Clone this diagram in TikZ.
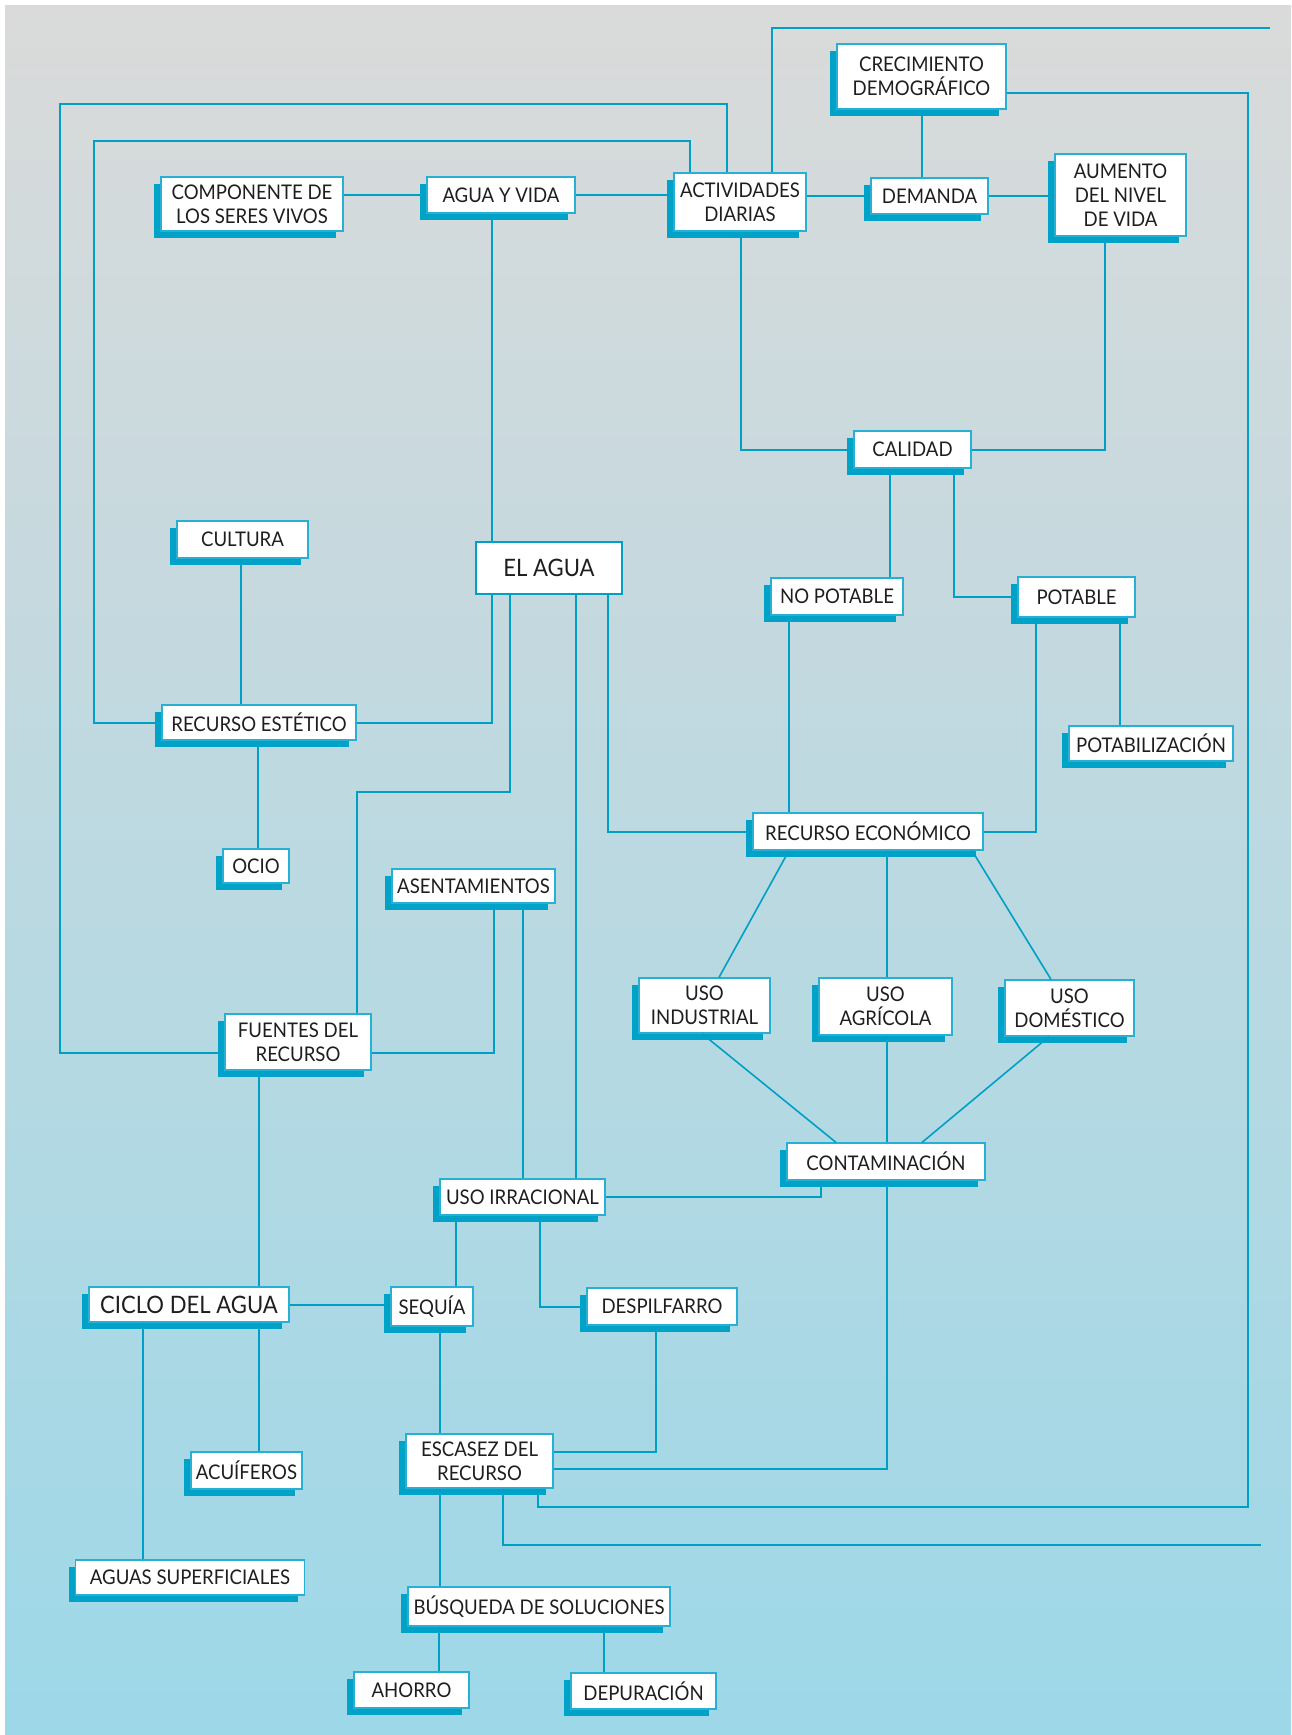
\documentclass[tikz,border=0pt]{standalone}
\usepackage{fontspec}
\setmainfont{Lato}[FakeStretch=0.92]
\usetikzlibrary{shadows}
\definecolor{lc}{RGB}{0,160,198}
\definecolor{bord}{RGB}{40,175,212}
\definecolor{shc}{RGB}{0,162,200}
\definecolor{bgtop}{RGB}{218,218,218}
\definecolor{bgbot}{RGB}{157,216,232}
\definecolor{txt}{RGB}{30,30,30}
\tikzset{
  box/.style={draw=bord, line width=0.6pt, fill=white, inner sep=0pt, align=center,
    text=txt, font=\fontsize{10.1}{12}\selectfont,
    drop shadow={shadow xshift=-3.5pt, shadow yshift=-3.5pt, fill=shc, opacity=1}},
  bigbox/.style={draw=lc, line width=1pt, fill=white, inner sep=0pt, align=center,
    text=txt, font=\fontsize{12}{14}\selectfont},
  conn/.style={draw=lc, line width=1pt},
}
\begin{document}
\begin{tikzpicture}[x=0.5pt, y=-0.5pt]
\useasboundingbox (0,0) rectangle (1291,1735);
\fill[white] (0,0) rectangle (1291,1735);
\shade[top color=bgtop, bottom color=bgbot] (5,5) rectangle (1291,1735);

% nodes
\node[box, minimum width=91pt, minimum height=27pt] (comp) at (252,204) {COMPONENTE DE\\LOS SERES VIVOS};
\node[box, minimum width=74pt, minimum height=18pt] (aguavida) at (501,195) {AGUA Y VIDA};
\node[box, minimum width=66pt, minimum height=29pt] (activ) at (740,202) {ACTIVIDADES\\DIARIAS};
\node[box, minimum width=58.5pt, minimum height=18pt] (demanda) at (929.5,196) {DEMANDA};
\node[box, minimum width=84.5pt, minimum height=32.5pt] (crec) at (921.5,76.5) {CRECIMIENTO\\DEMOGRÁFICO};
\node[box, minimum width=65.5pt, minimum height=41pt] (aumento) at (1120.5,195) {AUMENTO\\DEL NIVEL\\DE VIDA};
\node[box, minimum width=58.5pt, minimum height=18.5pt] (calidad) at (912.5,449.5) {CALIDAD};
\node[box, minimum width=66pt, minimum height=18.5pt] (nopot) at (837,596.5) {NO POTABLE};
\node[box, minimum width=58.5pt, minimum height=20pt] (potable) at (1076.5,597) {POTABLE};
\node[box, minimum width=82pt, minimum height=17.5pt] (potab) at (1151,743.5) {POTABILIZACIÓN};
\node[box, minimum width=65.5pt, minimum height=18.5pt] (cultura) at (242.5,539.5) {CULTURA};
\node[bigbox, minimum width=73pt, minimum height=26pt] (elagua) at (549,568) {EL AGUA};
\node[box, minimum width=97pt, minimum height=17.5pt] (estetico) at (259,722.5) {RECURSO ESTÉTICO};
\node[box, minimum width=33pt, minimum height=17pt] (ocio) at (256,866) {OCIO};
\node[box, minimum width=81.5pt, minimum height=17pt] (asent) at (473.5,886) {ASENTAMIENTOS};
\node[box, minimum width=115pt, minimum height=18.5pt] (econ) at (868,831.5) {RECURSO ECONÓMICO};
\node[box, minimum width=65.5pt, minimum height=27.5pt] (usoind) at (704.5,1005.5) {USO\\INDUSTRIAL};
\node[box, minimum width=66.5pt, minimum height=28.5pt] (usoagr) at (885.5,1006.5) {USO\\AGRÍCOLA};
\node[box, minimum width=64.5pt, minimum height=28pt] (usodom) at (1069.5,1008) {USO\\DOMÉSTICO};
\node[box, minimum width=73pt, minimum height=28pt] (fuentes) at (298,1042) {FUENTES DEL\\RECURSO};
\node[box, minimum width=99pt, minimum height=18.5pt] (contam) at (886,1161.5) {CONTAMINACIÓN};
\node[box, minimum width=82.5pt, minimum height=18pt] (irrac) at (522.5,1197) {USO IRRACIONAL};
\node[box, minimum width=100pt, minimum height=17.5pt, font=\fontsize{12}{14}\selectfont] (ciclo) at (189,1304.5) {CICLO DEL AGUA};
\node[box, minimum width=41pt, minimum height=19.5pt] (sequia) at (432,1306.5) {SEQUÍA};
\node[box, minimum width=75pt, minimum height=18.5pt] (despil) at (662,1306.5) {DESPILFARRO};
\node[box, minimum width=55.5pt, minimum height=18.5pt] (acuif) at (246.5,1470.5) {ACUÍFEROS};
\node[box, minimum width=73.5pt, minimum height=27pt] (escasez) at (479.5,1461) {ESCASEZ DEL\\RECURSO};
\node[box, minimum width=114.5pt, minimum height=17.5pt] (aguassup) at (190,1577.5) {AGUAS SUPERFICIALES};
\node[box, minimum width=131pt, minimum height=19.5pt] (busq) at (539,1606.5) {BÚSQUEDA DE SOLUCIONES};
\node[box, minimum width=57.5pt, minimum height=18pt] (ahorro) at (411.5,1690) {AHORRO};
\node[box, minimum width=72.5pt, minimum height=18pt] (depur) at (643.5,1691) {DEPURACIÓN};

\coordinate (endtop) at (1270,28);
\coordinate (endbot) at (1261,1545);

% connectors
\draw[conn] (comp.east |- aguavida.west) -- (aguavida.west);
\draw[conn] (aguavida.east) -- (activ.west |- aguavida.east);
\draw[conn] (activ.east |- demanda.west) -- (demanda.west);
\draw[conn] (demanda.east) -- (aumento.west |- demanda.east);
\draw[conn] (crec.south) -- (crec.south |- demanda.north);
\draw[conn] (aguavida.south -| 492,0) -- (elagua.north -| 492,0);
\draw[conn] (activ.south -| 741,0) |- (calidad.west);
\draw[conn] (calidad.east) -| (aumento.south -| 1105,0);
\draw[conn] (calidad.south -| 890,0) -- (nopot.north -| 890,0);
\draw[conn] (calidad.south -| 954,0) |- (potable.west);
\draw[conn] (potable.south -| 1120,0) -- (potab.north -| 1120,0);
\draw[conn] (potable.south -| 1036,0) |- (econ.east);
\draw[conn] (nopot.south -| 789,0) -- (econ.north -| 789,0);
\draw[conn] (elagua.south -| 608,0) |- (econ.west);
\draw[conn] (elagua.south -| 576,0) -- (irrac.north -| 576,0);
\draw[conn] (elagua.south -| 510,0) |- (357,792) -- (fuentes.north -| 357,0);
\draw[conn] (elagua.south -| 492,0) |- (estetico.east);
\draw[conn] (cultura.south -| 241,0) -- (estetico.north -| 241,0);
\draw[conn] (estetico.south -| 258,0) -- (ocio.north -| 258,0);
\draw[conn] (activ.north -| 690,0) |- (94,141) |- (estetico.west);
\draw[conn] (activ.north -| 727,0) |- (60,104) |- (fuentes.west |- 0,1053);
\draw[conn] (activ.north -| 772,0) |- (endtop);
\draw[conn] (crec.east |- 0,93) -| (1248,1507) -| (escasez.south -| 538,0);
\draw[conn] (escasez.south -| 503,0) |- (endbot);
\draw[conn] (asent.south -| 494,0) |- (fuentes.east |- 0,1053);
\draw[conn] (asent.south -| 523,0) -- (irrac.north -| 523,0);
\draw[conn, line width=0.8pt] (econ.south -| 789,0) -- (usoind.north -| 719,0);
\draw[conn] (econ.south -| 887,0) -- (usoagr.north -| 887,0);
\draw[conn, line width=0.8pt] (econ.south -| 972,0) -- (usodom.north -| 1051,0);
\draw[conn, line width=0.8pt] (usoind.south -| 702,0) -- (contam.north -| 836,0);
\draw[conn] (usoagr.south -| 887,0) -- (contam.north -| 887,0);
\draw[conn, line width=0.8pt] (usodom.south -| 1049,0) -- (contam.north -| 922,0);
\draw[conn] (contam.south -| 821,0) |- (irrac.east);
\draw[conn] (contam.south -| 887,0) |- (escasez.east |- 0,1469);
\draw[conn] (irrac.south -| 456,0) -- (sequia.north -| 456,0);
\draw[conn] (irrac.south -| 540,0) |- (despil.west);
\draw[conn] (fuentes.south -| 259,0) -- (ciclo.north -| 259,0);
\draw[conn] (ciclo.east) -- (sequia.west |- ciclo.east);
\draw[conn] (ciclo.south -| 143,0) -- (aguassup.north -| 143,0);
\draw[conn] (ciclo.south -| 259,0) -- (acuif.north -| 259,0);
\draw[conn] (sequia.south -| 440,0) -- (escasez.north -| 440,0);
\draw[conn] (despil.south -| 656,0) |- (escasez.east |- 0,1452);
\draw[conn] (escasez.south -| 440,0) -- (busq.north -| 440,0);
\draw[conn] (busq.south -| 439,0) -- (ahorro.north -| 439,0);
\draw[conn] (busq.south -| 604,0) -- (depur.north -| 604,0);
\end{tikzpicture}
\end{document}
